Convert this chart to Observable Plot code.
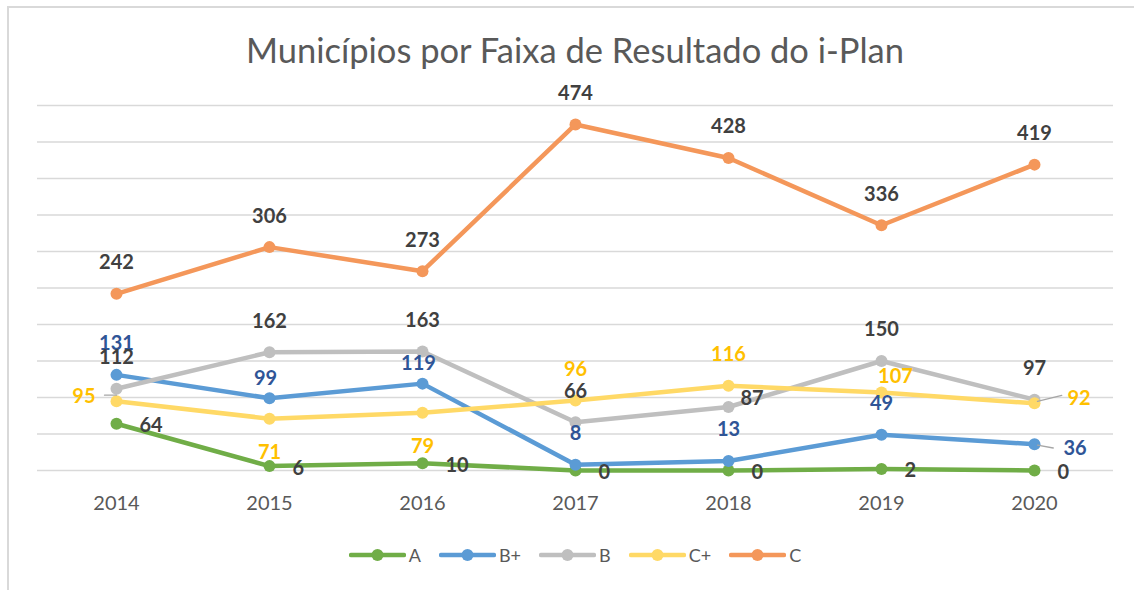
<!DOCTYPE html>
<html><head><meta charset="utf-8">
<script src="https://cdn.jsdelivr.net/npm/d3@7"></script>
<script src="https://cdn.jsdelivr.net/npm/@observablehq/plot@0.6"></script>
<style>
html,body{margin:0;padding:0;background:#fff;overflow:hidden;width:1134px;height:590px;}
#frame{position:absolute;left:7px;top:6px;width:1200px;height:700px;border:2px solid #D9D9D9;box-sizing:border-box;}
#title{position:absolute;left:16px;width:1118px;top:33px;text-align:center;font:34.5px/34px Lato,sans-serif;color:#595959;white-space:nowrap;}
#plot{position:absolute;left:0;top:80px;}
#legend{position:absolute;left:16px;width:1118px;top:545px;display:flex;justify-content:center;align-items:center;font:18px/20px Lato,sans-serif;color:#595959;}
#legend .item{display:flex;align-items:center;margin:0 9px;}
#legend .item span{margin-left:3px;}
</style>
</head>
<body>
<div id="frame"></div>
<div id="title">Municípios por Faixa de Resultado do i-Plan</div>
<div id="plot"></div>
<div id="legend"></div>
<script>
// ---- data ----
const years = ["2014", "2015", "2016", "2017", "2018", "2019", "2020"];
const seriesNames = ["A", "B+", "B", "C+", "C"];
const valuesA     = [64, 6, 10, 0, 0, 2, 0];
const valuesBplus = [131, 99, 119, 8, 13, 49, 36];
const valuesB     = [112, 162, 163, 66, 87, 150, 97];
const valuesCplus = [95, 71, 79, 96, 116, 107, 92];
const valuesC     = [242, 306, 273, 474, 428, 336, 419];
const yTicks = [0, 50, 100, 150, 200, 250, 300, 350, 400, 450, 500];

// ---- styles ----
const lineColors  = ["#70AD47", "#5B9BD5", "#BFBFBF", "#FFD966", "#F4975A"];
const labelColors = ["#404040", "#2F5597", "#404040", "#FFC000", "#404040"];

// ---- label placement keywords (per point) ----
const placeA     = ["right", "right", "right", "right", "right", "right", "right"];
const placeBplus = ["above", "aboveNear", "aboveNear", "above", "above", "above", "farRightDown"];
const placeB     = ["above", "above", "above", "above", "upRight", "above", "above"];
const placeCplus = ["left", "below", "below", "above", "above", "aboveRight", "farRightUp"];
const placeC     = ["above", "above", "above", "above", "above", "above", "above"];

const placements = {
  above:        {dx: 0,   dy: -31, textAnchor: "middle"},
  aboveNear:    {dx: -4,  dy: -20, textAnchor: "middle"},
  right:        {dx: 23,  dy: 2,   textAnchor: "start"},
  upRight:      {dx: 12,  dy: -8,  textAnchor: "start"},
  aboveRight:   {dx: 14,  dy: -16, textAnchor: "middle"},
  farRightUp:   {dx: 33,  dy: -5,  textAnchor: "start"},
  farRightDown: {dx: 29,  dy: 4,   textAnchor: "start"},
  left:         {dx: -21, dy: -5,  textAnchor: "end"},
  below:        {dx: 0,   dy: 34,  textAnchor: "middle"}
};

const seriesValues = [valuesA, valuesBplus, valuesB, valuesCplus, valuesC];
const seriesPlaces = [placeA, placeBplus, placeB, placeCplus, placeC];

const data = seriesNames.flatMap((s, i) => years.map((yr, j) => ({
  series: s, year: yr, value: seriesValues[i][j], placement: seriesPlaces[i][j]
})));

const marks = [Plot.gridY(yTicks, {stroke: "#D9D9D9", strokeOpacity: 1, strokeWidth: 1.3})];

seriesNames.forEach((s, i) => {
  const rows = data.filter(d => d.series === s);
  marks.push(Plot.line(rows, {x: "year", y: "value", stroke: lineColors[i], strokeWidth: 4.5,
    strokeLinejoin: "round", strokeLinecap: "round"}));
  marks.push(Plot.dot(rows, {x: "year", y: "value", r: 6, fill: lineColors[i], stroke: null}));
});

// leader lines for displaced labels
const leaderShape = {draw(context, l) { context.moveTo(0, 0); context.lineTo(0, -l); }};
const leaders = {
  left:         {length: 12, rotate: 270, dx: 0, dy: -6},
  farRightUp:   {length: 25, rotate: 76,  dx: 3, dy: -2},
  farRightDown: {length: 16, rotate: 100, dx: 3, dy: 1}
};
Object.entries(leaders).forEach(([key, o]) => {
  const rows = data.filter(d => d.placement === key);
  if (rows.length) marks.push(Plot.vector(rows, {x: "year", y: "value", anchor: "start",
    length: o.length, rotate: o.rotate, dx: o.dx, dy: o.dy, shape: leaderShape,
    stroke: "#A6A6A6", strokeWidth: 1.3}));
});

seriesNames.forEach((s, i) => {
  Object.entries(placements).forEach(([key, p]) => {
    const rows = data.filter(d => d.series === s && d.placement === key);
    if (!rows.length) return;
    marks.push(Plot.text(rows, {x: "year", y: "value", text: d => String(d.value),
      fill: labelColors[i], dx: p.dx, dy: p.dy, textAnchor: p.textAnchor,
      fontSize: 20, fontWeight: "bold", fontFamily: "Lato"}));
  });
});

marks.push(Plot.axisX({tickSize: 0, tickPadding: 25, fontSize: 20, color: "#595959", label: null}));

const chart = Plot.plot({
  width: 1134, height: 440,
  marginLeft: 37, marginRight: 21, marginTop: 25, marginBottom: 50,
  x: {type: "point", domain: years, padding: 0.5, label: null},
  y: {domain: [0, 500], axis: null},
  style: {fontFamily: "Lato", background: "transparent", overflow: "visible"},
  marks
});
document.getElementById("plot").appendChild(chart);

// legend
const legend = document.getElementById("legend");
seriesNames.forEach((s, i) => {
  const item = document.createElement("div");
  item.className = "item";
  item.innerHTML = `<svg width="57" height="14"><line x1="2" x2="55" y1="7" y2="7" stroke="${lineColors[i]}" stroke-width="4.5" stroke-linecap="round"/><circle cx="28.5" cy="7" r="6" fill="${lineColors[i]}"/></svg><span>${s}</span>`;
  legend.appendChild(item);
});
</script>
</body></html>
